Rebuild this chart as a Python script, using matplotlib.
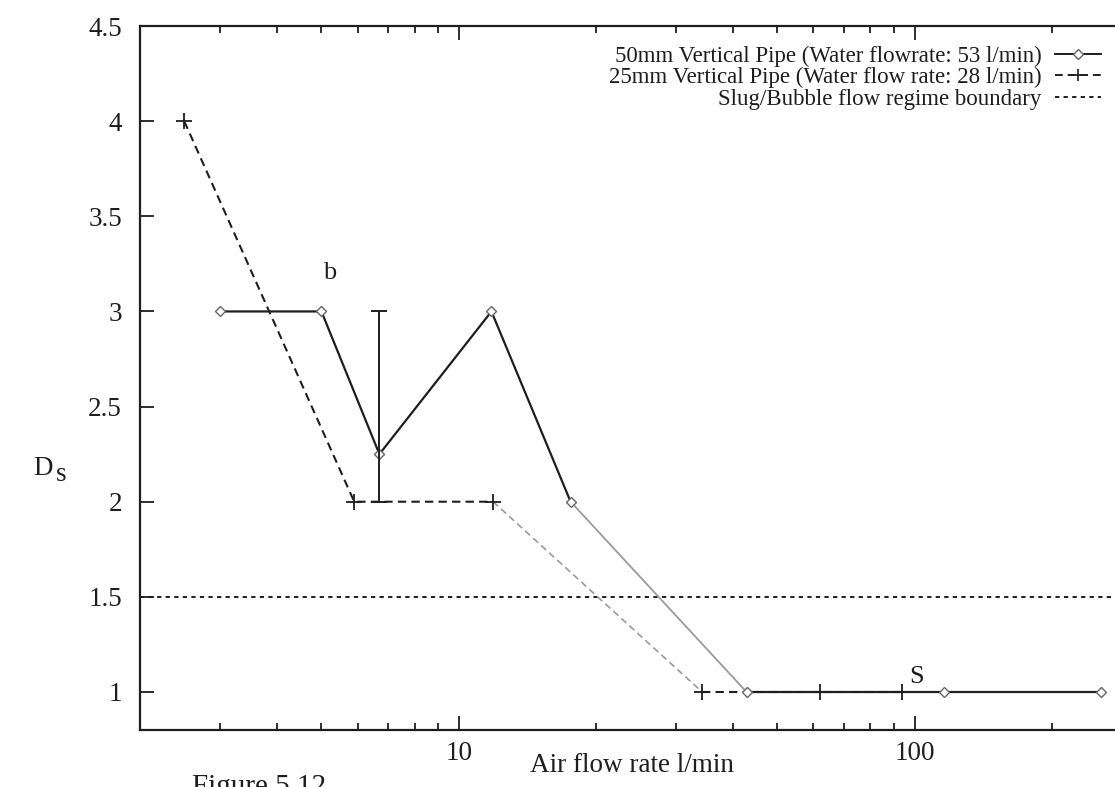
import matplotlib
matplotlib.use("Agg")
import matplotlib.pyplot as plt
from matplotlib.ticker import LogLocator, NullFormatter, FixedLocator, FixedFormatter

plt.rcParams["font.family"] = ["Liberation Serif", "DejaVu Serif"]

# 50 mm pipe, water 53 l/min
air_50 = [3.0, 5.0, 6.7, 11.8, 17.6, 42.8, 116, 256]
ds_50 = [3.0, 3.0, 2.25, 3.0, 2.0, 1.0, 1.0, 1.0]

# 25 mm pipe, water 28 l/min
air_25 = [2.5, 5.9, 11.9, 34.2, 62.1, 93.8]
ds_25 = [4.0, 2.0, 2.0, 1.0, 1.0, 1.0]

# spread of the 6.7 l/min reading on the 50 mm pipe
err_x = [6.7]
err_lo = [2.0]
err_hi = [3.0]

boundary = 1.5

ink = "#1e1e1e"
faded = "#9a9a9a"
dash = (0, (4, 2.5))
dots = (0, (2.2, 2.2))

fig = plt.figure(figsize=(11.15, 7.87), dpi=100)
ax = fig.add_axes([0.1256, 0.0724, 0.8897, 0.8945])

ax.set_xscale("log")
ax.set_xlim(2, 300)
ax.set_ylim(0.8, 4.5)

ax.axhline(boundary, color=ink, lw=1.4, ls=dots)

# 25 mm: dashed, with the faint middle stretch drawn lighter
ax.plot(air_25[:3], ds_25[:3], color=ink, lw=1.5, ls=dash)
ax.plot(air_25[2:4], ds_25[2:4], color=faded, lw=1.2, ls=dash)
ax.plot(air_25[3:], ds_25[3:], color=ink, lw=1.5, ls=dash)
ax.plot(air_25, ds_25, ls="none", marker="+", ms=11, mew=1.3, color=ink)

# 50 mm: solid, same treatment
ax.plot(air_50[:5], ds_50[:5], color=ink, lw=1.6)
ax.plot(air_50[4:6], ds_50[4:6], color=faded, lw=1.3)
ax.plot(air_50[5:], ds_50[5:], color=ink, lw=1.6)
ax.plot(air_50, ds_50, ls="none", marker="D", ms=5.5, mew=1.0,
        mfc="white", mec="#666666")

mid = ds_50[air_50.index(err_x[0])]
ax.errorbar(err_x, [mid], yerr=[[mid - err_lo[0]], [err_hi[0] - mid]],
            fmt="none", ecolor=ink, elinewidth=1.4, capsize=6, capthick=1.4)

ax.text(5.2, 3.2, "b", fontsize=19, color=ink, ha="center", va="center")
ax.text(101, 1.08, "S", fontsize=19, color=ink, ha="center", va="center")

# legend entries, gnuplot style: text right-aligned, sample on the right
h50, = ax.plot([], [], color=ink, lw=1.4, marker="D", ms=5, mfc="white", mec="#666666")
h25, = ax.plot([], [], color=ink, lw=1.4, ls=dash, marker="+", ms=9, mew=1.2)
hb, = ax.plot([], [], color=ink, lw=1.4, ls=dots)
leg = ax.legend([h50, h25, hb],
                ["50mm Vertical Pipe (Water flowrate: 53 l/min)",
                 "25mm Vertical Pipe (Water flow rate: 28 l/min)",
                 "Slug/Bubble flow regime boundary"],
                loc="upper right", bbox_to_anchor=(0.985, 0.995), frameon=False,
                markerfirst=False, numpoints=1, fontsize=16.5, handlelength=2.0,
                handletextpad=0.6, labelspacing=0.02, borderpad=0.2)
for t in leg.get_texts():
    t.set_color(ink)

# axes frame and ticks
for s in ax.spines.values():
    s.set_linewidth(1.6)
    s.set_color(ink)
ax.xaxis.set_major_locator(FixedLocator([10, 100]))
ax.xaxis.set_major_formatter(FixedFormatter(["10", "100"]))
ax.xaxis.set_minor_locator(LogLocator(base=10, subs=range(2, 10)))
ax.xaxis.set_minor_formatter(NullFormatter())
ax.set_yticks([1, 1.5, 2, 2.5, 3, 3.5, 4, 4.5])
ax.set_yticklabels(["1", "1.5", "2", "2.5", "3", "3.5", "4", "4.5"])
ax.tick_params(which="both", direction="in", top=True, right=True, colors=ink,
               labelsize=19.5, width=1.3)
ax.tick_params(which="major", length=10)
ax.tick_params(which="minor", length=5)
ax.tick_params(axis="y", pad=13)
ax.tick_params(axis="x", pad=8)

fig.text(0.030, 0.405, "D", fontsize=19.5, color=ink, ha="left", va="center")
fig.text(0.050, 0.397, "s", fontsize=19.5, color=ink, ha="left", va="center")
fig.text(0.567, 0.012, "Air flow rate l/min", fontsize=19.5, color=ink,
         ha="center", va="bottom")
fig.text(0.172, -0.016, "Figure 5.12", fontsize=21, color=ink, ha="left", va="bottom")

fig.savefig("out.png", dpi=100)
